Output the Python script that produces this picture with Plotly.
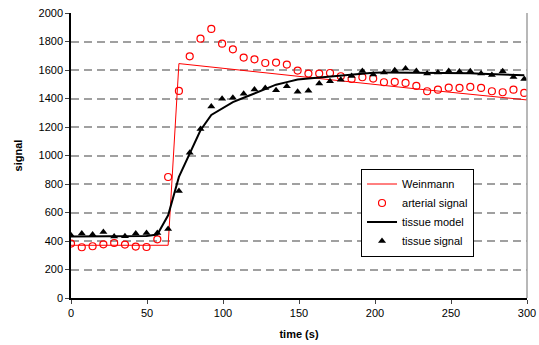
import plotly.graph_objects as go

time_s = [0, 7.1, 14.2, 21.3, 28.4, 35.5, 42.6, 49.7, 56.8, 63.9, 71.0, 78.1, 85.2, 92.3,
          99.4, 106.5, 113.6, 120.7, 127.8, 134.9, 142.0, 149.1, 156.2, 163.3, 170.4, 177.5,
          184.6, 191.7, 198.8, 205.9, 213.0, 220.1, 227.2, 234.3, 241.4, 248.5, 255.6, 262.7,
          269.8, 276.9, 284.0, 291.1, 298.2]

arterial_signal = [382, 356, 363, 377, 386, 375, 361, 358, 412, 849, 1453, 1696, 1820, 1888,
                   1785, 1745, 1687, 1675, 1649, 1652, 1638, 1596, 1575, 1575, 1579, 1556,
                   1537, 1549, 1540, 1514, 1516, 1509, 1488, 1451, 1462, 1476, 1474, 1481,
                   1474, 1451, 1444, 1462, 1439]

tissue_signal = [440, 452, 445, 463, 431, 433, 452, 456, 456, 484, 751, 1020, 1186, 1343,
                 1399, 1406, 1434, 1464, 1474, 1458, 1486, 1448, 1455, 1505, 1521, 1532,
                 1558, 1593, 1568, 1582, 1598, 1610, 1593, 1575, 1582, 1593, 1589, 1591,
                 1575, 1565, 1591, 1551, 1537]

tissue_model = [432, 432, 432, 433, 433, 433, 433, 435, 445, 580, 850, 1013, 1177, 1285,
                1330, 1375, 1405, 1434, 1467, 1497, 1515, 1533, 1540, 1547, 1555, 1563,
                1571, 1579, 1581, 1582, 1582, 1582, 1582, 1581, 1581, 1580, 1579, 1577,
                1574, 1571, 1568, 1565, 1563]

weinmann_t = [0, 63.9, 71.0, 150, 225, 300]
weinmann_v = [370, 370, 1645, 1555, 1470, 1390]

y_ticks = list(range(0, 2001, 200))
x_ticks = list(range(0, 301, 50))

fig = go.Figure()
fig.add_trace(go.Scatter(x=weinmann_t, y=weinmann_v, mode="lines", name="Weinmann",
                         line=dict(color="#ff0000", width=1)))
fig.add_trace(go.Scatter(x=time_s, y=arterial_signal, mode="markers", name="arterial signal",
                         marker=dict(symbol="circle-open", size=7, color="#ff0000",
                                     line=dict(width=1.2, color="#ff0000"))))
fig.add_trace(go.Scatter(x=time_s, y=tissue_model, mode="lines", name="tissue model",
                         line=dict(color="black", width=2)))
fig.add_trace(go.Scatter(x=time_s, y=tissue_signal, mode="markers", name="tissue signal",
                         marker=dict(symbol="triangle-up", size=7, color="black")))

fig.add_shape(type="line", xref="paper", yref="paper", x0=1, x1=1, y0=0, y1=1,
              line=dict(color="#a0a0a0", width=1.5))

fig.update_layout(
    width=539, height=345,
    margin=dict(l=71, r=12, t=13, b=47),
    paper_bgcolor="white", plot_bgcolor="white",
    font=dict(family="Liberation Sans, Arial, sans-serif", size=11, color="black"),
    showlegend=True,
    legend=dict(x=0.636, y=0.30, xanchor="left", yanchor="middle",
                bgcolor="white", bordercolor="black", borderwidth=1,
                font=dict(size=11), tracegroupgap=0, itemwidth=30),
)
fig.update_xaxes(range=[0, 300], tickvals=x_ticks, ticks="outside", ticklen=4,
                 showline=True, linecolor="black", linewidth=1.5, showgrid=False,
                 zeroline=False, automargin=False, ticklabeloverflow="allow",
                 title=dict(text="<b>time (s)</b>", font=dict(size=11), standoff=12))
fig.update_yaxes(range=[0, 2000], tickvals=y_ticks, ticks="outside", ticklen=4,
                 showline=True, linecolor="black", linewidth=1.5,
                 showgrid=True, gridcolor="#a0a0a0", griddash="8px,5px", gridwidth=1.5,
                 zeroline=False, automargin=False, ticklabeloverflow="allow",
                 title=dict(text="<b>signal</b>", font=dict(size=11), standoff=14))

fig.write_html("out.html",
               config={"displayModeBar": False},
               post_script="document.body.style.margin='0';")
